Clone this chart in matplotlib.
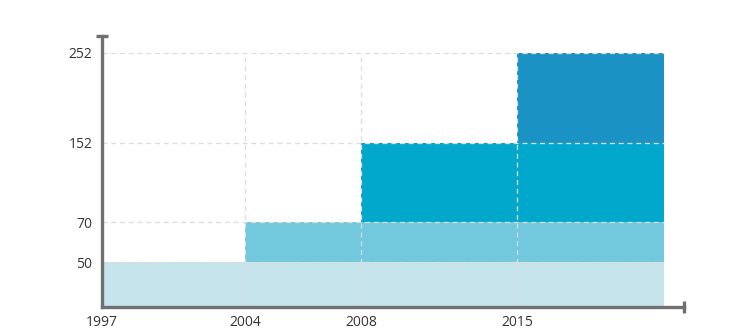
import numpy as np
import matplotlib
matplotlib.use('Agg')
import matplotlib.pyplot as plt

# step levels, each one starts in a given year and runs to the end
start_years = [1997, 2004, 2008, 2015]
levels = [50, 70, 152, 252]
end_year = 2020
colors = ['#c5e4ec', '#72c8dc', '#02a8cc', '#1b92c4']

# the original chart is not drawn to a linear scale, so map through knots
x_knots = [1997, 2004, 2008, 2015, 2020, 2023]
x_pos = [1, 144, 259, 415, 561, 581]
y_knots = [0, 50, 70, 152, 252, 280]
y_pos = [0, 45, 85, 164, 254, 271]

def fwd_x(v):
	return np.interp(v, x_knots, x_pos)

def inv_x(v):
	return np.interp(v, x_pos, x_knots)

def fwd_y(v):
	return np.interp(v, y_knots, y_pos)

def inv_y(v):
	return np.interp(v, y_pos, y_knots)

plt.rcParams['font.family'] = ['Open Sans', 'DejaVu Sans']

fig = plt.figure(figsize=(7.54, 3.34), dpi=100)
ax = fig.add_axes([102 / 754, 27 / 334, 582 / 754, 271 / 334])
ax.set_xscale('function', functions=(fwd_x, inv_x))
ax.set_yscale('function', functions=(fwd_y, inv_y))

lower = [0] + levels[:-1]
for i in range(len(levels)):
	ax.bar(start_years[i], levels[i] - lower[i], width=end_year - start_years[i],
		bottom=lower[i], align='edge', color=colors[i], linewidth=0, zorder=1)

# dashed grid, only inside the data area
grid_kw = dict(color='#dcdcdc', linewidth=0.9, linestyles=(0, (4, 3)), zorder=2)
ax.hlines(levels, start_years[0], end_year, **grid_kw)
ax.vlines(start_years[1:], 0, levels[-1], **grid_kw)

ax.set_xlim(1997, 2023)
ax.set_ylim(0, 280)
ax.set_xticks(start_years)
ax.set_xticklabels([str(y) for y in start_years])
ax.set_yticks(levels)
ax.set_yticklabels([str(v) for v in levels])
ax.tick_params(length=0, labelsize=10, colors='#333333')
ax.tick_params(axis='x', pad=6)
ax.tick_params(axis='y', pad=7)

for s in ['top', 'right']:
	ax.spines[s].set_visible(False)
for s in ['left', 'bottom']:
	ax.spines[s].set_color('#707070')
	ax.spines[s].set_linewidth(2.4)

# little end caps on the axes
ax.plot([0], [1], marker='_', markersize=8, mew=2.4, color='#707070',
	transform=ax.transAxes, clip_on=False)
ax.plot([1], [0], marker='|', markersize=8, mew=2.4, color='#707070',
	transform=ax.transAxes, clip_on=False)

fig.savefig('out.png', dpi=100)
